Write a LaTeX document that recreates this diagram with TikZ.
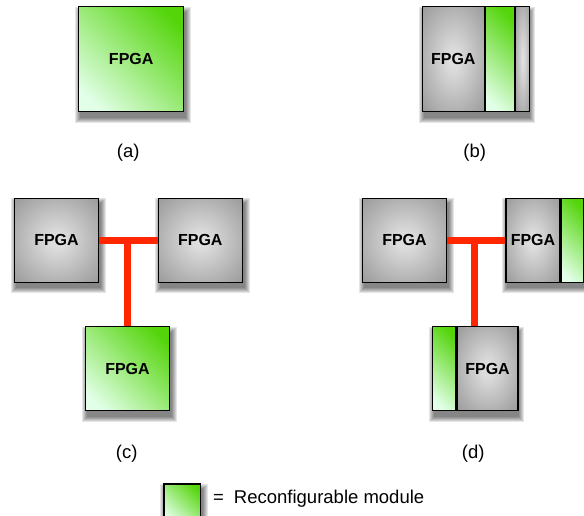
\documentclass[tikz,border=0pt]{standalone}
\usepackage{fontspec}
\setmainfont{Liberation Sans}
\usetikzlibrary{calc,backgrounds}
\definecolor{redlink}{RGB}{255,38,0}
\pgfdeclareradialshading{fpgagray}{\pgfpoint{0bp}{0bp}}{rgb(0bp)=(0.88,0.88,0.88); rgb(5bp)=(0.86,0.86,0.86); rgb(36bp)=(0.6,0.6,0.6); rgb(50bp)=(0.47,0.47,0.47)}
\pgfdeclarehorizontalshading{greenmod}{100bp}{rgb(0bp)=(0.886,1,0.91); rgb(22bp)=(0.886,1,0.91); rgb(78bp)=(0.33,0.835,0.04); rgb(100bp)=(0.33,0.835,0.04)}
\begin{document}
\begin{tikzpicture}[x=1pt,y=-1pt,
  box/.style={draw=black, line width=1.2pt, rectangle, inner sep=0pt, font=\fontsize{16}{16}\selectfont\bfseries},
  grayfill/.style={shade, shading=fpgagray},
  greenfill/.style={shade, shading=greenmod, shading angle=45},
  shadowrect/.style={fill=black, opacity=0.1, draw=none},
  link/.style={draw=redlink, line width=7.5pt},
  caption/.style={font=\fontsize{18.5}{18.5}\selectfont}]
\useasboundingbox (0,0) rectangle (584,516);

% (a)
\node[box, greenfill, minimum width=105pt, minimum height=105pt] (a) at (131.2,59.2) {FPGA};
\node[caption] (capa) at (128.3,153) {(a)};

% (b)
\node[box, fill=gray, minimum width=105pt, minimum height=105pt] (bf) at (474.8,59.2) {};
\node[box, grayfill, minimum width=62pt, minimum height=105pt, anchor=north west] (bg) at (bf.north west) {FPGA};
\node[box, greenfill, minimum width=29pt, minimum height=105pt, anchor=north west] (bm) at (bg.north east) {};
\node[box, grayfill, minimum width=14pt, minimum height=105pt, anchor=north west] (be) at (bm.north east) {};
\node[caption] (capb) at (474.8,153) {(b)};

% (c)
\node[box, grayfill, minimum width=84pt, minimum height=84pt] (c1) at (56.5,240.3) {FPGA};
\node[box, grayfill, minimum width=84pt, minimum height=84pt] (c2) at (200.3,240.3) {FPGA};
\node[box, greenfill, minimum width=84pt, minimum height=84pt] (c3) at (127.5,368.7) {FPGA};
\draw[link] (c1.east) -- (c2.west);
\draw[link] (c3.north) -- (c3.north |- c1.east);
\node[caption] (capc) at (126.7,453.3) {(c)};

% (d)
\node[box, grayfill, minimum width=84pt, minimum height=84pt] (d1) at (404.5,240.3) {FPGA};
\node[box, fill=gray, minimum width=76.5pt, minimum height=84pt] (d2f) at (544.25,240.3) {};
\node[box, grayfill, minimum width=54pt, minimum height=84pt, anchor=north west] (d2) at (d2f.north west) {FPGA};
\node[box, greenfill, minimum width=22.5pt, minimum height=84pt, anchor=north west] (d2m) at (d2.north east) {};
\node[box, fill=gray, minimum width=84pt, minimum height=84pt] (d3f) at (474.7,368.7) {};
\node[box, greenfill, minimum width=23.3pt, minimum height=84pt, anchor=north west] (d3m) at (d3f.north west) {};
\node[box, grayfill, minimum width=60.7pt, minimum height=84pt, anchor=north west] (d3) at (d3m.north east) {FPGA};
\draw[link] (d1.east) -- (d2f.west);
\draw[link] (d3f.north) -- (d3f.north |- d1.east);
\node[caption] (capd) at (473.3,453.3) {(d)};

% legend
\node[box, greenfill, minimum width=36.7pt, minimum height=36.7pt, anchor=north west] (leg) at (163.3,483.3) {};
\node[caption, inner sep=0pt, anchor=west] (legtext) at (213,499) {=\hspace{10pt}Reconfigurable module};

% soft drop shadows
\begin{pgfonlayer}{background}
\foreach \n in {a,bf,c1,c2,c3,d1,d2f,d3f,leg}{
  \foreach \e in {5,4,3,2,1,0}{
    \fill[shadowrect] ($(\n.north west)+(2-\e,5.5-\e)$) rectangle ($(\n.south east)+(2+\e,5.5+\e)$);
  }
}
\end{pgfonlayer}
\end{tikzpicture}
\end{document}
